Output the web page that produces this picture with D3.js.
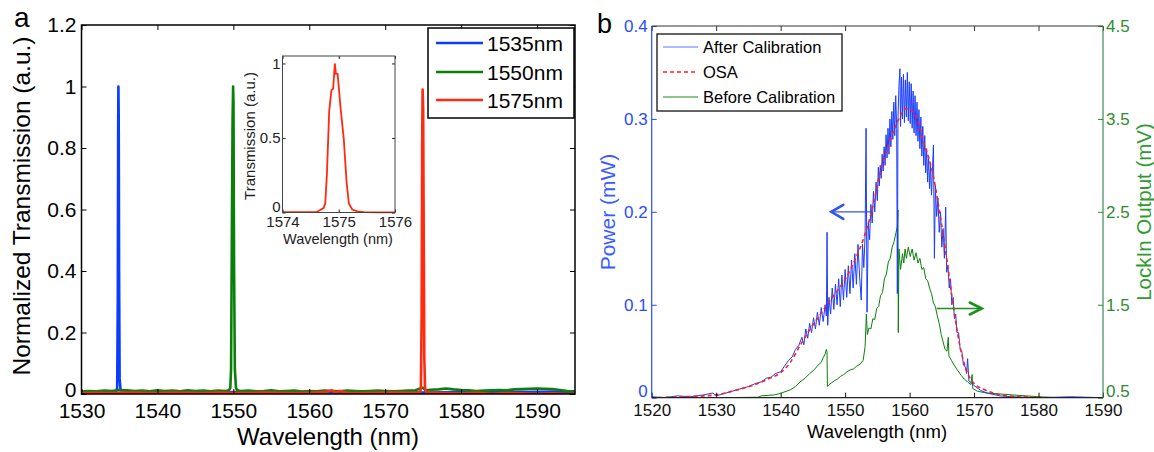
<!DOCTYPE html>
<html><head><meta charset="utf-8">
<script src="https://cdn.jsdelivr.net/npm/d3@7"></script>
<style>
body{margin:0;background:#fff}
svg{display:block}
text{font-family:"Liberation Sans",Arial,Helvetica,sans-serif}
</style>
</head><body>
<svg id="c" width="1154" height="452"></svg>
<script>
// ---------- Panel a data ----------
const aLegend = ["1535nm", "1550nm", "1575nm"];
const aColors = ["#0a3cff", "#0a800a", "#ff2a10"];
const aXTicks = [1530, 1540, 1550, 1560, 1570, 1580, 1590];
const aYTicks = [0, 0.2, 0.4, 0.6, 0.8, 1, 1.2];

const aBlueWl = [1530,1532,1534,1534.55,1534.7,1534.78,1534.83,1534.86,1534.9,1534.95,1535.02,1535.15,1536,1540,1545,1550,1555,1560,1565,1570,1575,1580,1585,1590,1593,1595];
const aBlueT  = [0.005,0.006,0.005,0.006,0.02,0.3,0.85,1.0,0.9,0.4,0.05,0.012,0.01,0.006,0.005,0.006,0.005,0.006,0.005,0.006,0.005,0.006,0.006,0.007,0.008,0.006];

const aGreenWl = [1530,1531,1532,1533,1534,1535,1536,1537,1538,1539,1540,1541,1542,1543,1544,1545,1546,1547,1548,1549,1549.4,1549.6,1549.7,1549.8,1549.9,1549.97,1550.02,1550.06,1550.1,1550.2,1550.35,1550.5,1551,1552,1553,1554,1555,1556,1557,1558,1559,1560,1561,1562,1563,1564,1565,1566,1567,1568,1569,1570,1571,1572,1573,1574,1574.8,1575,1575.3,1576,1577,1578,1579,1580,1581,1582,1583,1584,1585,1586,1587,1588,1589,1590,1591,1592,1593,1594,1595];
const aGreenT  = [0.008,0.01,0.009,0.011,0.01,0.013,0.012,0.01,0.011,0.009,0.012,0.01,0.011,0.009,0.012,0.01,0.011,0.009,0.011,0.01,0.012,0.02,0.08,0.5,0.9,1.0,0.95,0.63,0.4,0.08,0.02,0.012,0.01,0.011,0.009,0.01,0.012,0.009,0.01,0.011,0.008,0.01,0.009,0.011,0.01,0.009,0.011,0.01,0.009,0.01,0.011,0.01,0.009,0.01,0.011,0.012,0.02,0.02,0.012,0.014,0.015,0.018,0.015,0.013,0.012,0.01,0.011,0.012,0.013,0.012,0.015,0.016,0.017,0.018,0.017,0.016,0.013,0.01,0.009];

const aRedWl = [1530,1532,1534,1536,1538,1540,1542,1544,1546,1548,1550,1552,1554,1556,1558,1560,1562,1563,1563.5,1564,1565,1567,1569,1571,1573,1574.6,1574.7,1574.8,1574.87,1574.93,1575.0,1575.08,1575.15,1575.25,1575.4,1576,1578,1580,1582,1584,1586,1588,1590,1592,1594,1595];
const aRedT  = [0.003,0.004,0.003,0.005,0.004,0.003,0.005,0.004,0.003,0.005,0.004,0.003,0.005,0.004,0.003,0.004,0.006,0.012,0.004,0.01,0.004,0.003,0.004,0.005,0.004,0.005,0.02,0.25,0.8,0.99,0.93,0.5,0.12,0.02,0.006,0.005,0.003,0.002,0.004,0.001,0.003,0.002,0.001,0.002,0.0,0.001];

// inset
const insetXTicks = [1574, 1575, 1576];
const insetYTicks = [0, 0.5, 1];
const insetWl = [1574,1574.3,1574.6,1574.64,1574.73,1574.76,1574.79,1574.83,1574.87,1574.9,1574.93,1574.95,1574.98,1575.03,1575.09,1575.14,1575.18,1575.24,1575.33,1575.45,1575.7,1576];
const insetT  = [0.002,0.002,0.003,0.01,0.03,0.06,0.26,0.68,0.82,0.83,1.0,0.93,0.93,0.71,0.49,0.2,0.06,0.02,0.007,0.002,0.001,0.001];

// ---------- Panel b data ----------
const bLegend = ["After Calibration", "OSA", "Before Calibration"];
const bXTicks = [1520,1530,1540,1550,1560,1570,1580,1590];
const bYTicks = [0, 0.1, 0.2, 0.3, 0.4];
const bY2Ticks = [0.5, 1.5, 2.5, 3.5, 4.5];

const osaWl = [1520,1525,1530,1533,1536,1538,1540,1541.5,1543,1544.5,1546,1547.7,1549,1550.3,1551.5,1552.8,1554.4,1555.4,1557,1558.5,1559.4,1560.1,1561.1,1562.1,1563.7,1564.7,1565.8,1566.8,1567.8,1568.9,1569.9,1571.5,1573,1575,1578,1582,1590];
const osaP  = [0,0.001,0.003,0.008,0.014,0.02,0.027,0.038,0.056,0.073,0.088,0.105,0.117,0.131,0.148,0.17,0.209,0.241,0.277,0.302,0.311,0.31,0.301,0.277,0.238,0.198,0.148,0.098,0.056,0.028,0.016,0.009,0.005,0.002,0.001,0,0];

const afterWl = [1520,1522,1524,1526,1528,1529.5,1530,1531,1532,1533,1534,1535,1536,1537,1537.8,1538.5,1539.2,1540,1540.6,1541.2,1541.8,1542.3,1542.8,1543.3,1543.6,1543.9,1544.2,1544.5,1544.8,1545.1,1545.4,1545.7,1546.0,1546.3,1546.6,1546.9,1547.1,1547.2,1547.3,1547.5,1547.75,1548.0,1548.25,1548.5,1548.75,1549.0,1549.25,1549.5,1549.75,1550.0,1550.25,1550.5,1550.75,1551.0,1551.25,1551.5,1551.75,1552.0,1552.25,1552.5,1552.7,1552.9,1553.1,1553.25,1553.4,1553.6,1553.8,1554.0,1554.2,1554.4,1554.6,1554.8,1555.0,1555.15,1555.3,1555.45,1555.6,1555.75,1555.9,1556.05,1556.2,1556.35,1556.5,1556.65,1556.8,1556.95,1557.1,1557.25,1557.4,1557.55,1557.7,1557.85,1558.0,1558.1,1558.2,1558.35,1558.5,1558.6,1558.75,1558.9,1559.05,1559.2,1559.35,1559.5,1559.65,1559.8,1559.95,1560.1,1560.25,1560.4,1560.55,1560.7,1560.85,1561.0,1561.15,1561.3,1561.45,1561.6,1561.75,1561.9,1562.05,1562.2,1562.35,1562.5,1562.65,1562.8,1562.95,1563.1,1563.25,1563.4,1563.55,1563.7,1563.85,1564.0,1564.2,1564.4,1564.6,1564.8,1565.0,1565.2,1565.4,1565.6,1565.75,1565.95,1566.15,1566.35,1566.55,1566.75,1566.95,1567.15,1567.35,1567.6,1567.85,1568.1,1568.35,1568.6,1568.85,1569.0,1569.2,1569.6,1570,1571,1572,1574,1576,1580,1585,1590];
const afterP  = [0.001,0.0,0.002,0.001,0.003,0.005,0.002,0.004,0.006,0.008,0.01,0.012,0.015,0.017,0.021,0.022,0.026,0.028,0.034,0.04,0.044,0.052,0.056,0.065,0.057,0.074,0.064,0.08,0.07,0.086,0.074,0.092,0.078,0.097,0.082,0.1,0.088,0.178,0.078,0.108,0.09,0.118,0.095,0.122,0.1,0.128,0.098,0.132,0.105,0.138,0.108,0.142,0.112,0.148,0.118,0.155,0.122,0.165,0.13,0.105,0.165,0.14,0.175,0.29,0.092,0.188,0.17,0.208,0.188,0.222,0.2,0.232,0.212,0.248,0.228,0.25,0.236,0.262,0.244,0.27,0.25,0.283,0.258,0.29,0.262,0.3,0.27,0.308,0.278,0.318,0.282,0.325,0.29,0.112,0.3,0.335,0.354,0.292,0.345,0.3,0.348,0.296,0.342,0.302,0.35,0.298,0.34,0.295,0.338,0.29,0.33,0.285,0.325,0.282,0.318,0.276,0.31,0.268,0.302,0.26,0.292,0.25,0.282,0.242,0.268,0.232,0.26,0.225,0.25,0.218,0.245,0.272,0.15,0.228,0.195,0.215,0.178,0.2,0.162,0.182,0.15,0.205,0.135,0.142,0.118,0.128,0.1,0.108,0.085,0.09,0.07,0.07,0.052,0.05,0.035,0.034,0.026,0.042,0.018,0.016,0.013,0.008,0.005,0.002,0.001,0.0,0.001,0.0];

const beforeWl = [1520,1530,1536.5,1537,1539,1540,1541.5,1542.3,1543,1543.8,1544.5,1545.2,1545.8,1546.3,1546.6,1546.9,1547.1,1547.2,1547.25,1547.5,1547.9,1548.3,1548.8,1549.3,1549.8,1550.3,1550.8,1551.3,1551.8,1552.3,1552.8,1553.1,1553.3,1553.45,1553.7,1554.0,1554.3,1554.6,1554.9,1555.2,1555.5,1555.8,1556.1,1556.4,1556.7,1557.0,1557.3,1557.6,1557.9,1558.1,1558.2,1558.25,1558.35,1558.6,1558.9,1559.1,1559.3,1559.5,1559.8,1560.1,1560.4,1560.7,1561.0,1561.3,1561.6,1561.9,1562.2,1562.5,1562.8,1563.1,1563.4,1563.7,1564.0,1564.3,1564.6,1564.9,1565.2,1565.5,1565.8,1566.0,1566.1,1566.5,1567,1567.5,1568,1568.5,1569,1569.5,1569.7,1569.8,1570.5,1572,1574,1576,1578,1580,1583,1590];
const beforeV  = [0.5,0.5,0.505,0.52,0.53,0.547,0.585,0.62,0.67,0.71,0.76,0.8,0.85,0.88,0.93,0.97,1.02,0.99,0.62,0.64,0.66,0.68,0.7,0.73,0.75,0.78,0.8,0.81,0.84,0.86,0.9,1.05,1.4,1.18,1.25,1.24,1.35,1.34,1.46,1.48,1.6,1.63,1.78,1.83,1.96,2.0,2.12,2.18,2.28,2.34,2.52,1.2,2.1,1.88,2.05,1.95,2.1,2.0,2.12,2.02,2.1,1.98,2.06,1.95,2.0,1.88,1.9,1.78,1.76,1.68,1.62,1.52,1.48,1.38,1.3,1.18,1.1,1.02,1.0,1.15,0.95,0.9,0.84,0.79,0.74,0.7,0.67,0.64,0.75,0.6,0.57,0.55,0.54,0.53,0.52,0.51,0.5,0.5];

// ---------- drawing ----------
const svg = d3.select("#c");
svg.append("rect").attr("width",1154).attr("height",452).attr("fill","#fff");
const zip = (a,b) => a.map((v,i)=>[v,b[i]]);
const fmt1 = d => String(+d.toFixed(1));

function styleAx(g, color, fs){
  g.select(".domain").remove();
  g.selectAll("line").attr("stroke",color);
  g.selectAll("text").attr("fill",color).style("font-size",fs+"px").style("font-family",'"Liberation Sans",Arial,sans-serif');
}

// ===== Panel a =====
const xA = d3.scaleLinear().domain([1530,1595]).range([81.5,575]);
const yA = d3.scaleLinear().domain([0,1.2]).range([394,25]);
const gA = svg.append("g");
svg.append("clipPath").attr("id","clipA").append("rect")
  .attr("x",81.5).attr("y",25).attr("width",575-81.5).attr("height",394-25);

const lineA = d3.line().x(d=>xA(d[0])).y(d=>yA(d[1]));
const plotA = gA.append("g").attr("clip-path","url(#clipA)");
[[aBlueWl,aBlueT],[aGreenWl,aGreenT],[aRedWl,aRedT]].forEach((s,i)=>{
  plotA.append("path").datum(zip(s[0],s[1])).attr("d",lineA)
    .attr("fill","none").attr("stroke",aColors[i]).attr("stroke-width",2.6).attr("stroke-linejoin","round");
});

gA.append("g").attr("transform","translate(0,394)")
  .call(d3.axisBottom(xA).tickValues(aXTicks).tickSize(-5).tickPadding(9).tickFormat(d3.format("d")))
  .call(g=>styleAx(g,"#000",21));
gA.append("g").attr("transform","translate(0,25)")
  .call(d3.axisTop(xA).tickValues(aXTicks).tickSize(-5).tickFormat("")).call(g=>styleAx(g,"#000",21));
gA.append("g").attr("transform","translate(81.5,0)")
  .call(d3.axisLeft(yA).tickValues(aYTicks).tickSize(-5).tickPadding(5).tickFormat(fmt1))
  .call(g=>styleAx(g,"#000",21))
  .call(g=>g.selectAll(".tick").filter(d=>d===0).select("text").attr("dy","0.1em"));
gA.append("g").attr("transform","translate(575,0)")
  .call(d3.axisRight(yA).tickValues(aYTicks).tickSize(-5).tickFormat("")).call(g=>styleAx(g,"#000",21));
gA.append("rect").attr("x",81.5).attr("y",25).attr("width",575-81.5).attr("height",394-25)
  .attr("fill","none").attr("stroke","#000").attr("stroke-width",1.5);

gA.append("text").attr("x",328).attr("y",445).attr("text-anchor","middle")
  .style("font-size","24px").text("Wavelength (nm)");
gA.append("text").attr("transform","translate(21,206) rotate(-90)").attr("text-anchor","middle")
  .attr("dominant-baseline","central").style("font-size","24.5px").text("Normalized Transmission (a.u.)");
svg.append("text").attr("x",14).attr("y",27).style("font-size","28px").text("a");

// legend a
const legA = gA.append("g");
legA.append("rect").attr("x",428).attr("y",28).attr("width",146).attr("height",90)
  .attr("fill","#fff").attr("stroke","#000").attr("stroke-width",1.5);
const legAY = [43,72,100];
aLegend.forEach((n,i)=>{
  legA.append("line").attr("x1",436).attr("x2",483).attr("y1",legAY[i]).attr("y2",legAY[i])
    .attr("stroke",aColors[i]).attr("stroke-width",2.6);
  legA.append("text").attr("x",487).attr("y",legAY[i]+7.5).style("font-size","21px").text(n);
});

// inset
const xI = d3.scaleLinear().domain([1574,1576]).range([282.5,395]);
const yI = d3.scaleLinear().domain([0,1.05]).range([212.5,56]);
const gI = svg.append("g");
gI.append("rect").attr("x",282.5).attr("y",56).attr("width",395-282.5).attr("height",212.5-56).attr("fill","#fff");
gI.append("path").datum(zip(insetWl,insetT)).attr("d",d3.line().x(d=>xI(d[0])).y(d=>yI(d[1])))
  .attr("fill","none").attr("stroke","#ff2a10").attr("stroke-width",1.8);
gI.append("g").attr("transform","translate(0,212.5)")
  .call(d3.axisBottom(xI).tickValues(insetXTicks).tickSize(-3).tickPadding(4).tickFormat(d3.format("d")))
  .call(g=>styleAx(g,"#222",15));
gI.append("g").attr("transform","translate(0,56)")
  .call(d3.axisTop(xI).tickValues(insetXTicks).tickSize(-3).tickFormat("")).call(g=>styleAx(g,"#222",15));
gI.append("g").attr("transform","translate(282.5,0)")
  .call(d3.axisLeft(yI).tickValues(insetYTicks).tickSize(-3).tickPadding(2).tickFormat(fmt1))
  .call(g=>styleAx(g,"#222",15))
  .call(g=>g.selectAll(".tick").filter(d=>d===0).select("text").attr("dy","-0.05em"));
gI.append("g").attr("transform","translate(395,0)")
  .call(d3.axisRight(yI).tickValues(insetYTicks).tickSize(-3).tickFormat("")).call(g=>styleAx(g,"#222",15));
gI.append("rect").attr("x",282.5).attr("y",56).attr("width",395-282.5).attr("height",212.5-56)
  .attr("fill","none").attr("stroke","#444").attr("stroke-width",1);
gI.append("text").attr("x",338).attr("y",244).attr("text-anchor","middle").style("font-size","14.5px").attr("fill","#222").text("Wavelength (nm)");
gI.append("text").attr("transform","translate(249,136) rotate(-90)").attr("text-anchor","middle")
  .attr("dominant-baseline","central").style("font-size","15px").attr("fill","#222").text("Transmission (a.u.)");

// ===== Panel b =====
const blue = "#2a4bff", green = "#2e8b2e";
const xB = d3.scaleLinear().domain([1520,1590]).range([651.7,1103]);
const yB = d3.scaleLinear().domain([0,0.4]).range([397.7,26]);
const yB2 = d3.scaleLinear().domain([0.5,4.5]).range([397.7,26]);
const gB = svg.append("g");
svg.append("clipPath").attr("id","clipB").append("rect")
  .attr("x",651.7).attr("y",26).attr("width",1103-651.7).attr("height",397.7-26);
const plotB = gB.append("g").attr("clip-path","url(#clipB)");

plotB.append("path").datum(zip(beforeWl,beforeV))
  .attr("d",d3.line().x(d=>xB(d[0])).y(d=>yB2(d[1])))
  .attr("fill","none").attr("stroke","#0b800b").attr("stroke-width",1);
plotB.append("path").datum(zip(afterWl,afterP))
  .attr("d",d3.line().x(d=>xB(d[0])).y(d=>yB(d[1])))
  .attr("fill","none").attr("stroke","#1a3cff").attr("stroke-width",1);
plotB.append("path").datum(zip(osaWl,osaP))
  .attr("d",d3.line().curve(d3.curveMonotoneX).x(d=>xB(d[0])).y(d=>yB(d[1])))
  .attr("fill","none").attr("stroke","#ff2020").attr("stroke-width",1.6).attr("stroke-dasharray","4,3");

// arrows
const arrowB = gB.append("g");
arrowB.append("line").attr("x1",xB(1553.9)).attr("x2",xB(1547.7)).attr("y1",yB(0.2)).attr("y2",yB(0.2))
  .attr("stroke","#3355ee").attr("stroke-width",1.3);
arrowB.append("path").attr("d",`M${xB(1547.7)+13},${yB(0.2)-7}L${xB(1547.7)+1},${yB(0.2)}L${xB(1547.7)+13},${yB(0.2)+7}`)
  .attr("fill","none").attr("stroke","#3355ee").attr("stroke-width",2.6).attr("stroke-linecap","round");
arrowB.append("line").attr("x1",xB(1564.2)).attr("x2",xB(1571.2)).attr("y1",yB2(1.46)).attr("y2",yB2(1.46))
  .attr("stroke","#1f8f1f").attr("stroke-width",1.3);
arrowB.append("path").attr("d",`M${xB(1571.2)-12},${yB2(1.46)-6}L${xB(1571.2)},${yB2(1.46)}L${xB(1571.2)-12},${yB2(1.46)+6}`)
  .attr("fill","none").attr("stroke","#1f8f1f").attr("stroke-width",2.6).attr("stroke-linecap","round");

// axes b
gB.append("g").attr("transform","translate(0,397.7)")
  .call(d3.axisBottom(xB).tickValues(bXTicks).tickSize(-5).tickPadding(6).tickFormat(d3.format("d")))
  .call(g=>styleAx(g,"#111",17));
gB.append("g").attr("transform","translate(0,26)")
  .call(d3.axisTop(xB).tickValues(bXTicks).tickSize(-5).tickFormat("")).call(g=>styleAx(g,"#333",17));
gB.append("g").attr("transform","translate(651.7,0)")
  .call(d3.axisLeft(yB).tickValues(bYTicks).tickSize(-5).tickPadding(4).tickFormat(fmt1))
  .call(g=>styleAx(g,blue,17))
  .call(g=>g.selectAll(".tick").filter(d=>d===0).select("text").attr("dy","-0.08em"));
gB.append("g").attr("transform","translate(1103,0)")
  .call(d3.axisRight(yB2).tickValues(bY2Ticks).tickSize(-5).tickPadding(3).tickFormat(fmt1))
  .call(g=>styleAx(g,green,17))
  .call(g=>g.selectAll(".tick").filter(d=>d===0.5).select("text").attr("dy","-0.08em"));
gB.append("line").attr("x1",651.7).attr("x2",1103).attr("y1",26).attr("y2",26).attr("stroke","#333").attr("stroke-width",1.2);
gB.append("line").attr("x1",651.7).attr("x2",1103).attr("y1",397.7).attr("y2",397.7).attr("stroke","#222").attr("stroke-width",1.2);
gB.append("line").attr("x1",651.7).attr("x2",651.7).attr("y1",26).attr("y2",397.7).attr("stroke",blue).attr("stroke-width",1.2);
gB.append("line").attr("x1",1103).attr("x2",1103).attr("y1",26).attr("y2",397.7).attr("stroke","#3a8a5a").attr("stroke-width",1.2);

gB.append("text").attr("x",877).attr("y",438).attr("text-anchor","middle").style("font-size","18.5px").text("Wavelength (nm)");
gB.append("text").attr("transform","translate(607,212) rotate(-90)").attr("text-anchor","middle")
  .attr("dominant-baseline","central").style("font-size","21px").attr("fill","#3b5bff").text("Power (mW)");
gB.append("text").attr("transform","translate(1143,212) rotate(-90)").attr("text-anchor","middle")
  .attr("dominant-baseline","central").style("font-size","20.5px").attr("fill","#2f9a2f").text("LockIn Output (mV)");
svg.append("text").attr("x",597).attr("y",33).style("font-size","27px").text("b");

// legend b
const legB = gB.append("g");
legB.append("rect").attr("x",657).attr("y",34).attr("width",185).attr("height",77)
  .attr("fill","#fff").attr("stroke","#111").attr("stroke-width",1.3);
const legBY = [47,72,97];
const legBStyle = [["#5a74ff",1,null],["#ff2020",1.6,"4,3"],["#1a8a1a",1,null]];
bLegend.forEach((n,i)=>{
  legB.append("line").attr("x1",663).attr("x2",698).attr("y1",legBY[i]).attr("y2",legBY[i])
    .attr("stroke",legBStyle[i][0]).attr("stroke-width",legBStyle[i][1]).attr("stroke-dasharray",legBStyle[i][2]);
  legB.append("text").attr("x",703).attr("y",legBY[i]+6).style("font-size","16.5px").text(n);
});
</script>
</body></html>
